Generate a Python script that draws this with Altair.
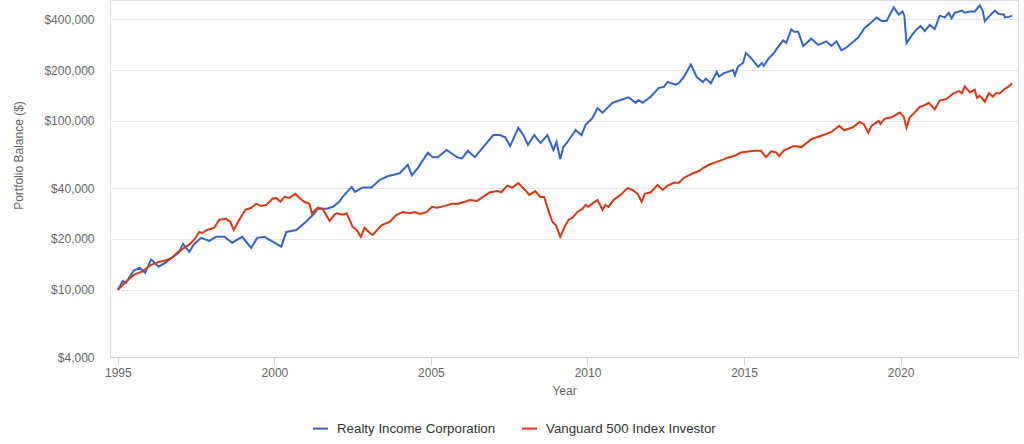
import altair as alt
import pandas as pd

# Realty Income Corporation (blue)
ri_years = [1995.0, 1995.16, 1995.26, 1995.5, 1995.7, 1995.87, 1996.06, 1996.15, 1996.3, 1996.5,
            1996.73, 1996.95, 1997.08, 1997.18, 1997.28, 1997.44, 1997.66, 1997.92, 1998.14, 1998.4,
            1998.65, 1998.97, 1999.26, 1999.45, 1999.68, 2000.0, 2000.22, 2000.38, 2000.7, 2001.0,
            2001.28, 2001.38, 2001.67, 2001.87, 2002.08, 2002.18, 2002.47, 2002.57, 2002.82, 2003.1,
            2003.37, 2003.62, 2004.0, 2004.26, 2004.39, 2004.58, 2004.9, 2005.06, 2005.22, 2005.5,
            2005.83, 2005.99, 2006.18, 2006.4, 2006.67, 2006.99, 2007.21, 2007.37, 2007.53, 2007.79,
            2007.95, 2008.1, 2008.3, 2008.5, 2008.72, 2008.81, 2008.91, 2009.01, 2009.13, 2009.23,
            2009.36, 2009.62, 2009.81, 2009.94, 2010.16, 2010.32, 2010.48, 2010.8, 2011.06, 2011.31,
            2011.54, 2011.63, 2011.76, 2012.02, 2012.28, 2012.44, 2012.56, 2012.82, 2012.92, 2013.08,
            2013.3, 2013.49, 2013.69, 2013.78, 2013.94, 2014.13, 2014.2, 2014.36, 2014.65, 2014.71,
            2014.8, 2014.97, 2015.06, 2015.22, 2015.45, 2015.57, 2015.63, 2015.8, 2015.96, 2016.03,
            2016.25, 2016.35, 2016.51, 2016.6, 2016.73, 2016.89, 2017.15, 2017.37, 2017.63, 2017.79,
            2017.95, 2018.11, 2018.27, 2018.43, 2018.65, 2018.85, 2019.07, 2019.23, 2019.39, 2019.55,
            2019.78, 2019.94, 2020.06, 2020.12, 2020.19, 2020.35, 2020.51, 2020.64, 2020.77, 2020.93,
            2021.09, 2021.25, 2021.41, 2021.54, 2021.63, 2021.73, 2021.96, 2022.05, 2022.21, 2022.37,
            2022.53, 2022.62, 2022.69, 2022.85, 2023.01, 2023.14, 2023.3, 2023.33, 2023.46, 2023.56]
ri_values = [10000, 11300, 11000, 12950, 13500, 12600, 15100, 14600, 13700, 14400,
             15500, 16600, 18700, 17700, 16800, 18700, 20300, 19500, 20600, 20600,
             19000, 20600, 17700, 20300, 20600, 19000, 18000, 22000, 22600, 25200,
             28400, 30200, 30200, 31000, 33300, 35500, 40700, 38000, 40300, 40300,
             44800, 47000, 49000, 55000, 47700, 52600, 64700, 61000, 61000, 67300,
             61000, 60000, 66500, 61000, 70000, 82500, 82500, 80000, 71000, 91000,
             82500, 72000, 82500, 74000, 82500, 75000, 67300, 75000, 59500, 70000,
             75000, 88500, 82500, 94700, 104000, 119000, 112000, 128000, 133000, 138000,
             128000, 133000, 128000, 139000, 157000, 159000, 170000, 164000, 168000, 182000,
             216000, 182000, 170000, 178000, 167000, 195000, 183000, 192000, 200000, 186000,
             209000, 221000, 253000, 236000, 209000, 220000, 212000, 236000, 253000, 265000,
             300000, 290000, 348000, 337000, 337000, 278000, 307000, 282000, 296000, 278000,
             296000, 262000, 272000, 288000, 312000, 355000, 384000, 410000, 390000, 390000,
             470000, 427000, 445000, 420000, 288000, 320000, 348000, 365000, 340000, 370000,
             350000, 420000, 410000, 437000, 405000, 437000, 450000, 437000, 445000, 445000,
             484000, 450000, 390000, 420000, 450000, 430000, 427000, 410000, 413000, 420000]

# Vanguard 500 Index Investor (red)
vg_years = [1995.0, 1995.26, 1995.5, 1995.77, 1996.06, 1996.31, 1996.57, 1996.73, 1996.9, 1997.12,
            1997.28, 1997.44, 1997.6, 1997.7, 1997.85, 1998.08, 1998.24, 1998.46, 1998.59, 1998.7,
            1998.88, 1999.07, 1999.26, 1999.42, 1999.58, 1999.74, 1999.94, 2000.06, 2000.19, 2000.32,
            2000.48, 2000.67, 2000.8, 2000.96, 2001.12, 2001.2, 2001.38, 2001.54, 2001.76, 2001.92,
            2001.99, 2002.18, 2002.31, 2002.5, 2002.63, 2002.76, 2002.88, 2003.05, 2003.14, 2003.43,
            2003.68, 2003.9, 2004.1, 2004.33, 2004.49, 2004.65, 2004.87, 2005.03, 2005.19, 2005.45,
            2005.67, 2005.87, 2006.09, 2006.25, 2006.47, 2006.67, 2006.89, 2007.12, 2007.25, 2007.44,
            2007.6, 2007.79, 2008.01, 2008.14, 2008.33, 2008.49, 2008.62, 2008.75, 2008.88, 2009.0,
            2009.13, 2009.3, 2009.4, 2009.52, 2009.68, 2009.84, 2009.94, 2010.03, 2010.19, 2010.32,
            2010.48, 2010.57, 2010.67, 2010.83, 2011.06, 2011.28, 2011.44, 2011.6, 2011.73, 2011.83,
            2012.02, 2012.24, 2012.4, 2012.56, 2012.76, 2012.92, 2013.08, 2013.37, 2013.56, 2013.69,
            2013.88, 2014.1, 2014.33, 2014.52, 2014.68, 2014.9, 2015.13, 2015.32, 2015.54, 2015.7,
            2015.87, 2016.03, 2016.12, 2016.28, 2016.5, 2016.6, 2016.83, 2017.15, 2017.47, 2017.79,
            2018.04, 2018.2, 2018.49, 2018.69, 2018.82, 2018.97, 2019.07, 2019.3, 2019.36, 2019.49,
            2019.71, 2019.97, 2020.1, 2020.19, 2020.29, 2020.45, 2020.61, 2020.77, 2020.9, 2021.09,
            2021.25, 2021.47, 2021.7, 2021.86, 2021.96, 2022.05, 2022.21, 2022.37, 2022.44, 2022.53,
            2022.69, 2022.82, 2022.95, 2023.04, 2023.17, 2023.33, 2023.46, 2023.56]
vg_values = [10000, 11150, 12250, 12800, 14050, 14600, 15000, 15500, 16600, 17700,
             18500, 19800, 22000, 21700, 22600, 23300, 26000, 26300, 25300, 22600,
             26000, 29800, 30600, 32300, 31400, 31800, 34600, 35000, 33200, 35500,
             35000, 37000, 35000, 33200, 32300, 28400, 30600, 30200, 25600, 27800,
             28400, 27800, 28400, 23600, 22600, 20600, 23300, 21700, 21100, 24200,
             25200, 27800, 28900, 28400, 28900, 28100, 28900, 31000, 30600, 31400,
             32300, 32300, 33200, 34000, 33600, 35500, 37800, 38400, 37800, 41400,
             40300, 42900, 39000, 36500, 38400, 35500, 35500, 29500, 25300, 24000,
             20600, 24200, 26000, 26700, 28900, 30100, 31800, 31000, 32800, 34000,
             29800, 31800, 31000, 34000, 36600, 40000, 39000, 37000, 33200, 37000,
             37800, 41800, 39000, 41400, 43000, 43000, 46100, 49000, 50500, 52600,
             55000, 57000, 59000, 61000, 62000, 65000, 65800, 66500, 66500, 61000,
             66000, 65000, 62000, 67000, 70000, 71000, 70000, 78000, 81700, 86000,
             93500, 88000, 92000, 98500, 96000, 85000, 93500, 100000, 96000, 103000,
             105000, 112000, 106000, 91000, 105000, 112000, 121000, 124000, 128000, 117000,
             132000, 135000, 146000, 150000, 146000, 160000, 148000, 153000, 137000, 141000,
             130000, 146000, 139000, 146000, 146000, 155000, 160000, 167000]

series_names = ["Realty Income Corporation", "Vanguard 500 Index Investor"]
series_colors = ["#3366cc", "#dc3912"]
y_ticks = [4000, 10000, 20000, 40000, 100000, 200000, 400000]
x_ticks = [1995, 2000, 2005, 2010, 2015, 2020]

df = pd.concat([
    pd.DataFrame({"Year": ri_years, "Balance": ri_values, "Series": series_names[0]}),
    pd.DataFrame({"Year": vg_years, "Balance": vg_values, "Series": series_names[1]}),
])

FONT = "Liberation Sans"

chart = alt.Chart(df).mark_line(strokeWidth=2, clip=True).encode(
    x=alt.X("Year:Q",
            scale=alt.Scale(domain=[1994.75, 2023.75], nice=False, zero=False),
            axis=alt.Axis(values=x_ticks, format="d", grid=False, domainColor="#ccd6eb",
                          tickColor="#ccd6eb", tickSize=8, labelPadding=2,
                          labelColor="#666666", labelFontSize=12, labelFont=FONT,
                          title="Year", titleColor="#666666", titleFontSize=12,
                          titleFont=FONT, titleFontWeight="normal", titlePadding=7)),
    y=alt.Y("Balance:Q",
            scale=alt.Scale(type="log", domain=[4000, 520000], nice=False),
            axis=alt.Axis(values=y_ticks, format="$,.0f", grid=True, gridColor="#e6e6e6",
                          domain=False, ticks=False, labelPadding=16,
                          labelColor="#666666", labelFontSize=12, labelFont=FONT,
                          title="Portfolio Balance ($)", titleColor="#666666",
                          titleFontSize=12, titleFont=FONT, titleFontWeight="normal",
                          titleAngle=270, titleX=-92, titleY=155, titleAlign="center",
                          titleBaseline="middle")),
    color=alt.Color("Series:N",
                    scale=alt.Scale(domain=series_names, range=series_colors),
                    legend=alt.Legend(title=None, orient="none", direction="horizontal",
                                      legendX=202, legendY=420, symbolType="stroke",
                                      symbolStrokeWidth=2, symbolSize=225,
                                      labelFontSize=13.3, labelFont=FONT, labelColor="#333333",
                                      labelLimit=400, columnPadding=22, labelOffset=8)),
).properties(
    width=908, height=357,
    autosize=alt.AutoSizeParams(type="none"),
    padding={"left": 110, "top": 0, "right": 6, "bottom": 87},
).configure_view(stroke=None).configure(background="white")

chart.save("out.html", embed_options={"renderer": "svg", "actions": False})
